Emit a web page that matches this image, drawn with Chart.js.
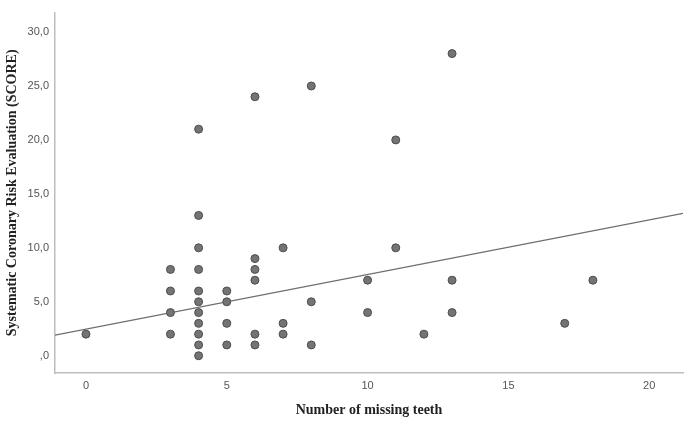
<!DOCTYPE html>
<html>
<head>
<meta charset="utf-8">
<script src="https://cdn.jsdelivr.net/npm/chart.js@4.4.0/dist/chart.umd.min.js"></script>
<style>
  html, body { margin: 0; padding: 0; background: #fff; }
  #wrap { width: 688px; height: 426px; }
</style>
</head>
<body>
<div id="wrap"><canvas id="chart" width="688" height="426"></canvas></div>
<script>
// Missing teeth (x) vs SCORE (y)
const teeth = [0, 3, 3, 3, 3, 4, 4, 4, 4, 4, 4, 4, 4, 4, 4, 4, 5, 5, 5, 5,
  6, 6, 6, 6, 6, 6, 7, 7, 7, 8, 8, 8, 10, 10, 11, 11, 12, 13, 13, 13, 17, 18];
const score = [2, 8, 6, 4, 2, 21, 13, 10, 8, 6, 5, 4, 3, 2, 1, 0, 6, 5, 3, 1,
  24, 9, 8, 7, 2, 1, 10, 3, 2, 25, 5, 1, 7, 4, 20, 10, 2, 28, 7, 4, 3, 7];

// fit line ends
const fitX = [-1.1, 21.2];
const fitY = [1.9, 13.2];

const xTicks = [0, 5, 10, 15, 20];
const yTicks = [0, 5, 10, 15, 20, 25, 30];
const yTickLabels = [",0", "5,0", "10,0", "15,0", "20,0", "25,0", "30,0"];

const points = teeth.map((t, i) => ({ x: t, y: score[i] }));
const fitLine = fitX.map((t, i) => ({ x: t, y: fitY[i] }));

const tickFont = { family: "'Liberation Sans', Arial, sans-serif", size: 11 };
const titleFont = { family: "'Liberation Serif', 'Times New Roman', serif", size: 14, weight: "bold" };

new Chart(document.getElementById("chart"), {
    type: "scatter",
    data: {
        datasets: [
            {
                type: "line",
                data: fitLine,
                borderColor: "#6e6e6e",
                borderWidth: 1.3,
                pointRadius: 0,
                fill: false,
                order: 2
            },
            {
                data: points,
                backgroundColor: "#747474",
                borderColor: "#4d4d4d",
                borderWidth: 1,
                pointRadius: 4,
                order: 1
            }
        ]
    },
    options: {
        responsive: false,
        animation: false,
        layout: { padding: { top: 7, right: 3, left: 0, bottom: 0 } },
        plugins: { legend: { display: false }, tooltip: { enabled: false } },
        scales: {
            x: {
                type: "linear",
                min: -1.1,
                max: 21.2,
                afterBuildTicks: s => { s.ticks = xTicks.map(v => ({ value: v })); },
                afterFit: s => { s.height = 53; },
                grid: { display: false, drawTicks: false },
                border: { display: true, color: "#bdbdbd", width: 1.5 },
                ticks: { color: "#555", font: tickFont, padding: 6, maxRotation: 0 },
                title: {
                    display: true,
                    text: "Number of missing teeth",
                    color: "#222",
                    font: titleFont,
                    padding: { top: 7, bottom: 7 }
                }
            },
            y: {
                type: "linear",
                min: -1.6,
                max: 31.8,
                afterBuildTicks: s => { s.ticks = yTicks.map(v => ({ value: v })); },
                afterFit: s => { s.width = 55; },
                grid: { display: false, drawTicks: false },
                border: { display: true, color: "#bdbdbd", width: 1.5 },
                ticks: {
                    color: "#555",
                    font: tickFont,
                    padding: 6,
                    callback: v => yTickLabels[yTicks.indexOf(v)]
                },
                title: {
                    display: true,
                    text: "Systematic Coronary Risk Evaluation (SCORE)",
                    color: "#222",
                    font: titleFont,
                    padding: { top: 4, bottom: 4 }
                }
            }
        }
    }
});
</script>
</body>
</html>
